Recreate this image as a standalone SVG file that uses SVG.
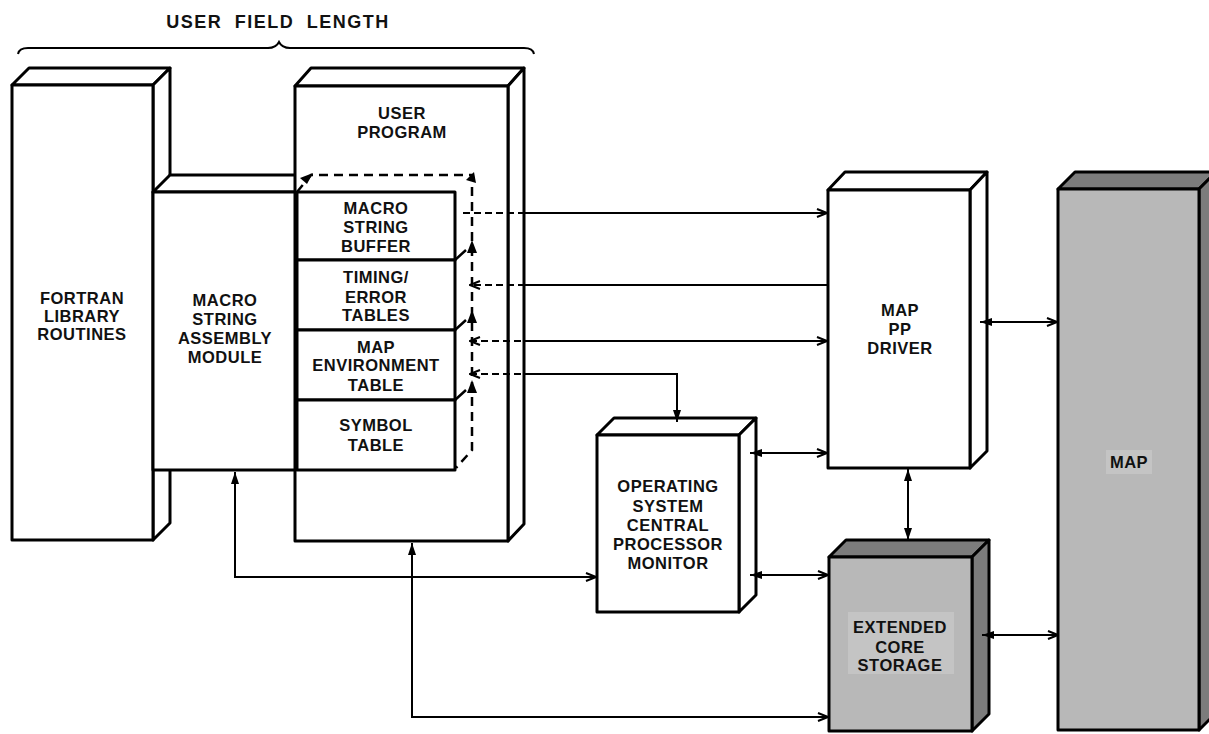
<svg xmlns="http://www.w3.org/2000/svg" width="1209" height="734" viewBox="0 0 1209 734">
<defs>
<style>
.box{fill:#fff;stroke:#000;stroke-width:3;stroke-linejoin:round}
.gfront{fill:#b8b8b8;stroke:#000;stroke-width:3;stroke-linejoin:round}
.gside{fill:#7c7c7c;stroke:#000;stroke-width:3;stroke-linejoin:round}
.patch{fill:#c4c4c4;stroke:none}
.ln{fill:none;stroke:#000;stroke-width:2}
.dash{fill:none;stroke:#000;stroke-width:2.5;stroke-dasharray:9 6}
.dl{fill:none;stroke:#000;stroke-width:2;stroke-dasharray:7 4}
.tip{fill:#000;stroke:none}
text{font-family:"Liberation Sans",Arial,Helvetica,sans-serif;font-weight:bold;font-size:16.5px;letter-spacing:0.5px;fill:#111;text-anchor:middle}
</style>
<marker id="ao" viewBox="0 0 12 10" refX="11" refY="5" markerWidth="12" markerHeight="10" markerUnits="userSpaceOnUse" orient="auto-start-reverse">
<path d="M1,1 L11,5 L1,9" fill="none" stroke="#000" stroke-width="2"/>
</marker>
<marker id="af" viewBox="0 0 12 10" refX="12" refY="5" markerWidth="12" markerHeight="10" markerUnits="userSpaceOnUse" orient="auto-start-reverse">
<path d="M0,1 L12,5 L0,9 Z" fill="#000"/>
</marker>
</defs>
<rect x="0" y="0" width="1209" height="734" fill="#fff"/>

<g id="title">
<text x="278" y="28" style="font-size:18px;letter-spacing:1.5px;word-spacing:6px">USER FIELD LENGTH</text>
<path class="ln" d="M18,54 Q19,48 28,48 L268,48 Q276,48 279,42 Q282,48 290,48 L524,48 Q533,48 534,54"/>
</g>

<g id="fortran">
<polygon class="box" points="12,85 29,68 170,68 153,85"/>
<polygon class="box" points="153,85 170,68 170,523 153,540"/>
<rect class="box" x="12" y="85" width="141" height="455"/>
<text x="82" y="304">FORTRAN</text>
<text x="82" y="322">LIBRARY</text>
<text x="82" y="340">ROUTINES</text>
</g>

<g id="macro-module">
<polygon class="box" points="153,192 170,175 300,175 300,192"/>
<rect class="box" x="153" y="192" width="144" height="278"/>
<text x="225" y="306">MACRO</text>
<text x="225" y="325">STRING</text>
<text x="225" y="344">ASSEMBLY</text>
<text x="225" y="363">MODULE</text>
</g>

<g id="user-program">
<polygon class="box" points="295,86 311,68 524,68 508,86"/>
<polygon class="box" points="508,86 524,68 524,524 508,541"/>
<rect class="box" x="295" y="86" width="213" height="455"/>
<text x="402" y="119">USER</text>
<text x="402" y="138">PROGRAM</text>
</g>

<g id="tables">
<path class="dash" d="M297,192 L311,175 L472,175 L472,450 L456,468"/>
<polygon class="tip" points="313,173 300,178 307,184"/>
<polygon class="tip" points="474,172 466,180 476,183"/>
<path class="ln" d="M455,260 L466,250 M455,330 L466,320 M455,400 L466,390" style="stroke-width:2.5"/>
<polygon class="tip" points="472,240 477,253 467,253"/>
<polygon class="tip" points="472,310 477,323 467,323"/>
<polygon class="tip" points="472,380 477,393 467,393"/>
<rect class="box" x="297" y="192" width="158" height="68"/>
<rect class="box" x="297" y="260" width="158" height="70"/>
<rect class="box" x="297" y="330" width="158" height="70"/>
<rect class="box" x="297" y="400" width="158" height="70"/>
<text x="376" y="214">MACRO</text>
<text x="376" y="233">STRING</text>
<text x="376" y="252">BUFFER</text>
<text x="376" y="283">TIMING/</text>
<text x="376" y="303">ERROR</text>
<text x="376" y="321">TABLES</text>
<text x="376" y="353">MAP</text>
<text x="376" y="371">ENVIRONMENT</text>
<text x="376" y="391">TABLE</text>
<text x="376" y="431">SYMBOL</text>
<text x="376" y="451">TABLE</text>
</g>

<g id="os-cpm">
<polygon class="box" points="597,435 614,418 756,418 739,435"/>
<polygon class="box" points="739,435 756,418 756,595 739,612"/>
<rect class="box" x="597" y="435" width="142" height="177"/>
<text x="668" y="492">OPERATING</text>
<text x="668" y="512">SYSTEM</text>
<text x="668" y="531">CENTRAL</text>
<text x="668" y="550">PROCESSOR</text>
<text x="668" y="569">MONITOR</text>
</g>

<g id="map-pp-driver">
<polygon class="box" points="828,190 845,172 987,172 970,190"/>
<polygon class="box" points="970,190 987,172 987,451 970,468"/>
<rect class="box" x="828" y="190" width="142" height="278"/>
<text x="900" y="316">MAP</text>
<text x="900" y="335">PP</text>
<text x="900" y="354">DRIVER</text>
</g>

<g id="ecs">
<polygon class="gside" points="829,557 846,540 989,540 972,557"/>
<polygon class="gside" points="972,557 989,540 989,714 972,731"/>
<rect class="gfront" x="829" y="557" width="143" height="174"/>
<rect class="patch" x="848" y="612" width="106" height="62"/>
<text x="900" y="633">EXTENDED</text>
<text x="900" y="653">CORE</text>
<text x="900" y="671">STORAGE</text>
</g>

<g id="map">
<polygon class="gside" points="1058,189 1075,172 1216,172 1199,189"/>
<polygon class="gside" points="1199,189 1216,172 1216,713 1199,730"/>
<rect class="gfront" x="1058" y="189" width="141" height="541"/>
<rect class="patch" x="1106" y="450" width="46" height="24"/>
<text x="1129" y="468">MAP</text>
</g>

<g id="connectors">
<path class="dl" d="M463,213 H525"/>
<path class="ln" d="M525,213 H827" marker-end="url(#ao)"/>
<path class="ln" d="M828,285 H525"/>
<path class="dl" d="M525,285 H470" marker-end="url(#ao)"/>
<path class="dl" d="M470,341 H525" marker-start="url(#ao)"/>
<path class="ln" d="M525,341 H827" marker-end="url(#ao)"/>
<path class="dl" d="M470,374 H525" marker-start="url(#ao)"/>
<path class="ln" d="M525,374 H677 V422" marker-end="url(#af)"/>
<path class="ln" d="M750,453 H827" marker-start="url(#af)" marker-end="url(#ao)"/>
<path class="ln" d="M750,575 H828" marker-start="url(#af)" marker-end="url(#ao)"/>
<path class="ln" d="M980,322 H1057" marker-start="url(#af)" marker-end="url(#ao)"/>
<path class="ln" d="M982,635 H1058" marker-start="url(#af)" marker-end="url(#ao)"/>
<path class="ln" d="M908,469 V540" marker-start="url(#af)" marker-end="url(#af)"/>
<path class="ln" d="M235,472 V577 H596" marker-start="url(#af)" marker-end="url(#ao)"/>
<path class="ln" d="M412,543 V717 H828" marker-start="url(#af)" marker-end="url(#ao)"/>
</g>
</svg>
